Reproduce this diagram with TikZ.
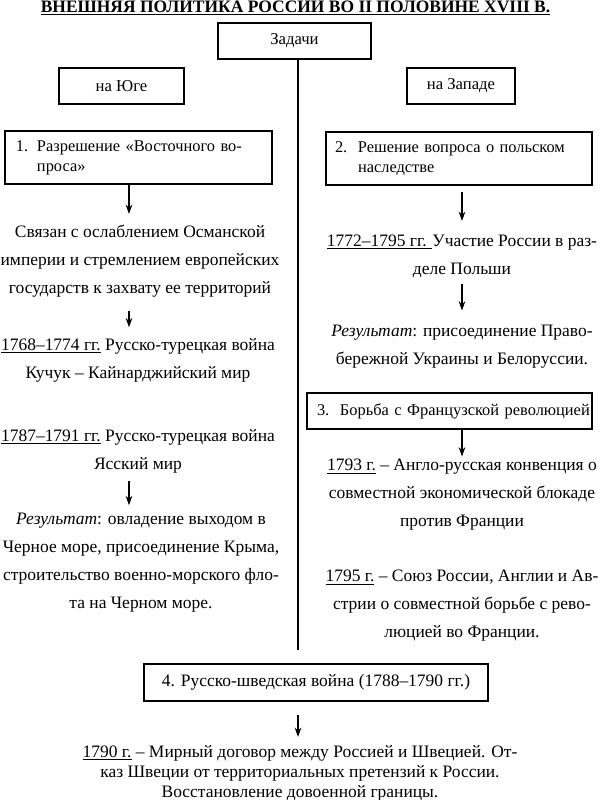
\documentclass[tikz,border=0pt]{standalone}
\usepackage{fontspec}
\setmainfont{Liberation Serif}
\usetikzlibrary{arrows.meta}
\begin{document}
\begin{tikzpicture}[x=0.75pt,y=-0.75pt,
  box/.style={draw, line width=0.8pt, inner sep=0pt, font=\fontsize{12.5}{15}\selectfont},
  numbox/.style={box, align=left, inner xsep=#1, font=\fontsize{12.3}{15}\selectfont},
  txt/.style={inner sep=0pt, align=center, font=\fontsize{13.1}{21}\selectfont},
  arr/.style={-{Stealth[length=7pt,width=5pt]}, line width=0.8pt}]
\useasboundingbox (0,0) rectangle (602,800);
% heading
\node[inner sep=0pt, font=\bfseries\fontsize{13.1}{15}\selectfont] (title) at (295.5,8)
  {\underline{ВНЕШНЯЯ ПОЛИТИКА РОССИИ ВО II ПОЛОВИНЕ XVIII В.}};
\node[box, minimum width=114.75pt, minimum height=27pt] (zad) at (294.5,41) {Задачи};
\node[box, minimum width=93.75pt, minimum height=27pt] (south) at (121.5,86) {на Юге};
\node[box, minimum width=81pt, minimum height=27pt] (west) at (461,86) {на Западе};
\coordinate (mid) at (298,650);
\draw[line width=0.8pt] (zad.south -| mid) -- (mid);
% south column
\coordinate (lx) at (129,0);
\node[numbox=8.25pt, text width=183.75pt, minimum height=39.75pt] (task1) at (138.5,157.5)
  {\makebox[15.75pt][l]{1.}Разрешение~«Восточного~во-\\\hspace*{15.75pt}проса»};
\node[txt] (osman) at (140,261)
  {Связан с ослаблением Османской\\империи и стремлением европейских\\государств к захвату ее территорий};
\node[txt] (war1) at (138,360)
  {\underline{1768–1774 гг.} Русско-турецкая война\\Кучук – Кайнарджийский мир};
\node[txt] (war2) at (138,451)
  {\underline{1787–1791 гг.} Русско-турецкая война\\Ясский мир};
\node[txt] (res1) at (141,563)
  {\textit{Результат}: овладение выходом в\\Черное море, присоединение Крыма,\\строительство военно-морского фло-\\та на Черном море.};
\draw[arr, shorten >=8pt] (task1.south -| lx) -- (osman.north -| lx);
\draw[arr, shorten <=10pt, shorten >=8pt] (osman.south -| lx) -- (war1.north -| lx);
\draw[arr, shorten <=6pt, shorten >=6pt] (war2.south -| lx) -- (res1.north -| lx);
% west column
\node[numbox=6.75pt, text width=186pt, minimum height=39.75pt] (task2) at (459,158.5)
  {\makebox[17.25pt][l]{2.}Решение~вопроса~о~польском\\\hspace*{17.25pt}наследстве};
\node[txt] (poland) at (462,256)
  {\underline{1772–1795 гг. }Участие России в раз-\\деле Польши};
\node[txt] (res2) at (462,347)
  {\textit{Результат}: присоединение Право-\\бережной Украины и Белоруссии.};
\node[numbox=7.5pt, text width=198.75pt, minimum height=27pt] (task3) at (449.5,411)
  {\makebox[17.25pt][l]{3.}Борьба~с~Французской~революцией};
\node[txt] (conv) at (462,495)
  {\underline{1793 г.} – Англо-русская конвенция о\\совместной экономической блокаде\\против Франции};
\node[txt] (union) at (462,606)
  {\underline{1795 г.} – Союз России, Англии и Ав-\\стрии о совместной борьбе с рево-\\люцией во Франции.};
\draw[arr, shorten <=5pt, shorten >=10pt] (task2.south -| poland) -- (poland.north);
\draw[arr, shorten <=5pt, shorten >=11pt] (poland.south) -- (res2.north);
\draw[arr, shorten >=2pt] (task3.south -| conv) -- (conv.north);
% north-west
\node[box, font=\fontsize{13.1}{15}\selectfont, minimum width=258pt, minimum height=27.75pt] (task4) at (316,682.5)
  {4. Русско-шведская война (1788–1790 гг.)};
\node[txt, font=\fontsize{13.1}{15}\selectfont] (peace) at (300,773)
  {\underline{1790 г.} – Мирный договор между Россией и Швецией. От-\\каз Швеции от территориальных претензий к России.\\Восстановление довоенной границы.};
\draw[arr, shorten <=10pt, shorten >=6pt] (task4.south -| mid) -- (peace.north -| mid);
\end{tikzpicture}
\end{document}
